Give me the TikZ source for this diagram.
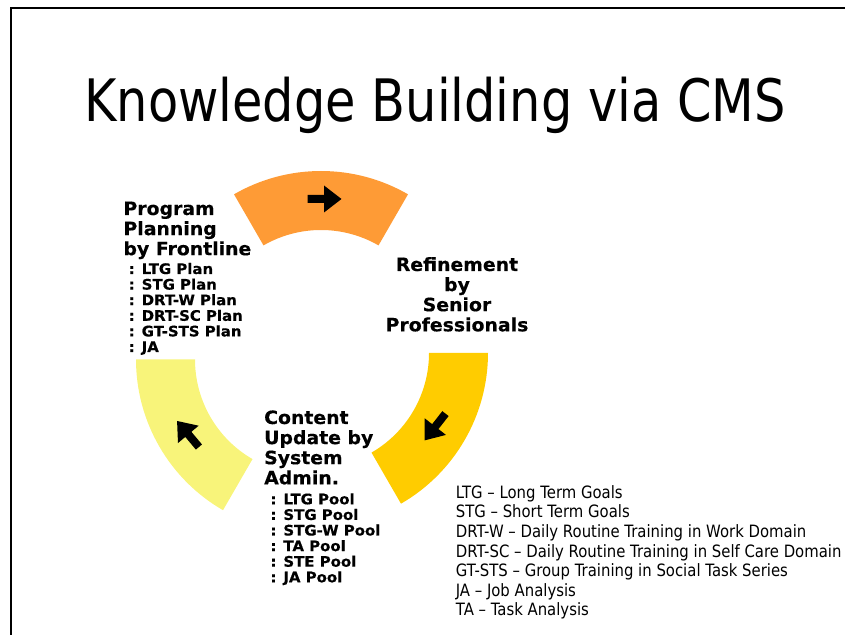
\documentclass[tikz,border=0pt]{standalone}
\usepackage{fontspec}
\setmainfont{DejaVu Sans}
\newfontfamily\slimface[FakeStretch=0.875]{DejaVu Sans}
\newfontfamily\titleface[FakeStretch=0.845]{DejaVu Sans}
\newfontfamily\heavyface[FakeStretch=1.03, BoldFeatures={FakeBold=0.4}]{DejaVu Sans}

% stacked lines, first baseline is the box baseline
\newcommand\lstack[1]{\vtop{\lineskiplimit=-100pt\halign{##\hfil\cr#1\crcr}}}
\newcommand\cstack[1]{\vtop{\lineskiplimit=-100pt\halign{\hfil##\hfil\cr#1\crcr}}}

% one 60-degree piece of the cycle ring: colour, centre x, centre y, start, end
\newcommand\ringpart[5]{%
  \fill[#1, shift={(#2,#3)}] (#4:174) arc[start angle=#4, end angle=#5, radius=174]
    -- (#5:115) arc[start angle=#5, end angle=#4, radius=115] -- cycle;}

% block arrow: centre x, centre y, direction
\newcommand\blockarrow[3]{%
  \fill[black, shift={(#1,#2)}, rotate=#3]
    (-17,-4) -- (-0.5,-4) -- (-0.5,-13.5) -- (17,0) -- (-0.5,13.5) -- (-0.5,4) -- (-17,4) -- cycle;}

\definecolor{segorange}{RGB}{254,155,54}
\definecolor{segyellow}{RGB}{248,244,122}
\definecolor{seggold}{RGB}{255,204,0}

\begin{document}
\begin{tikzpicture}[x=1pt, y=1pt,
  frameline/.style={line width=2pt, black, line join=miter},
  titletext/.style={inner sep=0pt, font=\titleface\fontsize{58.5}{70}\selectfont},
  headtext/.style={inner sep=0pt, font=\heavyface\bfseries\fontsize{18.3}{20.1}\selectfont},
  itemtext/.style={inner sep=0pt, font=\heavyface\bfseries\fontsize{14.5}{15.6}\selectfont},
  legendtext/.style={inner sep=0pt, font=\slimface\fontsize{17}{19.57}\selectfont}]
\useasboundingbox (0,0) rectangle (845,634);

% slide frame
\draw[frameline] (11,-2) -- (11,625.7) -- (847,625.7);

% title
\node[titletext, anchor=base] (title) at (435,512) {Knowledge Building via CMS};

% cycle ring
\ringpart{segorange}{321}{289}{60}{120}
\ringpart{segyellow}{310}{274.5}{180}{240}
\ringpart{seggold}{314}{281}{300}{360}

% direction arrows
\blockarrow{324.5}{435}{0}
\blockarrow{188}{200}{130}
\blockarrow{435}{207}{232}

% stage labels
\node[headtext, anchor=base west] (plan) at (123.3,419)
  {\lstack{Program\cr Planning\cr by Frontline}};
\node[itemtext, anchor=base west] (planitems) at (128.6,360)
  {\lstack{: LTG Plan\cr : STG Plan\cr : DRT-W Plan\cr : DRT-SC Plan\cr : GT-STS Plan\cr : JA}};

\node[headtext, anchor=base] (refine) at (457,363)
  {\cstack{Refinement\cr by\cr Senior\cr Professionals}};

\node[headtext, anchor=base west] (content) at (264,210)
  {\lstack{Content\cr Update by\cr System\cr Admin.}};
\node[itemtext, anchor=base west] (poolitems) at (270.3,129.7)
  {\lstack{: LTG Pool\cr : STG Pool\cr : STG-W Pool\cr : TA Pool\cr : STE Pool\cr : JA Pool}};

% abbreviations
\node[legendtext, anchor=base west] (legend) at (455.6,135.7)
  {\lstack{LTG – Long Term Goals\cr
           STG – Short Term Goals\cr
           DRT-W – Daily Routine Training in Work Domain\cr
           DRT-SC – Daily Routine Training in Self Care Domain\cr
           GT-STS – Group Training in Social Task Series\cr
           JA – Job Analysis\cr
           TA – Task Analysis}};
\end{tikzpicture}
\end{document}
